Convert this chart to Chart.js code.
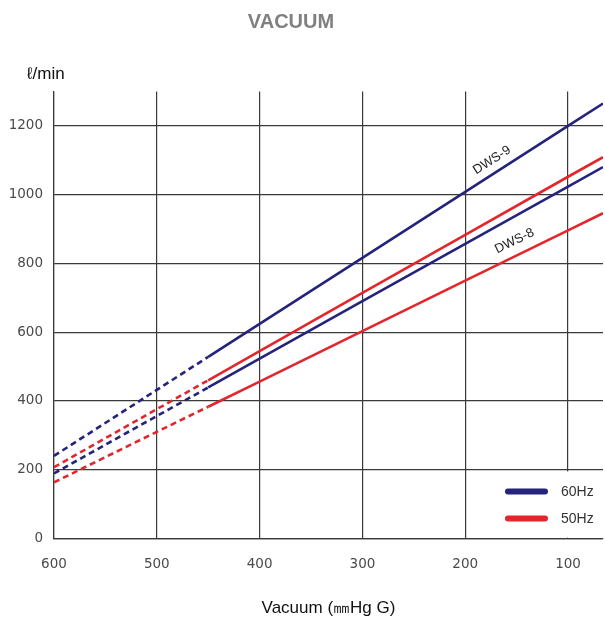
<!DOCTYPE html>
<html><head><meta charset="utf-8">
<script src="https://cdn.jsdelivr.net/npm/chart.js@4/dist/chart.umd.min.js"></script>
<style>html,body{margin:0;padding:0;background:#fff}canvas{display:block}</style>
</head><body>
<canvas id="c" width="605" height="626"></canvas>
<script>
// ---- data ----
const vacuum   = [600, 500, 450, 400, 300, 200, 100, 66];
const dws9_60  = [240, 432, 528, 624, 816, 1008, 1200, 1265];
const dws9_50  = [207, 376, 460, 545, 714, 883, 1052, 1109];
const dws8_60  = [189, 356, 439, 523, 690, 857, 1023, 1080];
const dws8_50  = [163, 310, 383, 456, 603, 750, 896, 946];
const dashedFrom = 450; // values at or beyond this vacuum are dashed
const seriesLabels = ['DWS-9 60Hz', 'DWS-9 50Hz', 'DWS-8 60Hz', 'DWS-8 50Hz'];
const legendLabels = ['60Hz', '50Hz'];
const modelLabels = ['DWS-9', 'DWS-8'];
const chartTitle = 'VACUUM';
const yUnit = 'ℓ/min';
const xTitle = 'Vacuum (㎜Hg G)';

const NAVY = '#25247c';
const RED = '#e3262c';
const GRID = '#3a3a3a';

function pts(ys) { return vacuum.map((x, i) => ({x, y: ys[i]})); }
function ds(label, ys, color) {
  return {
    label, data: pts(ys), borderColor: color, backgroundColor: color,
    borderWidth: 2.6, pointRadius: 0, tension: 0, fill: false,
    segment: { borderDash: c => c.p1.parsed.x >= dashedFrom ? [6, 4] : undefined }
  };
}

const extras = {
  id: 'extras',
  beforeDatasetsDraw(chart) {
    const {ctx, chartArea: a} = chart;
    ctx.save();
    // legend box (covers the grid)
    ctx.fillStyle = '#fff';
    ctx.fillRect(490, a.bottom - 67, a.right - 490 + 2, 66.3);
    const items = [[legendLabels[0], NAVY, a.bottom - 47], [legendLabels[1], RED, a.bottom - 20]];
    items.forEach(([t, c, y]) => {
      ctx.strokeStyle = c; ctx.lineWidth = 6; ctx.lineCap = 'round';
      ctx.beginPath(); ctx.moveTo(508, y); ctx.lineTo(545, y); ctx.stroke();
      ctx.fillStyle = '#333'; ctx.font = '14px "Liberation Sans", Arial, sans-serif';
      ctx.textAlign = 'left'; ctx.textBaseline = 'middle';
      ctx.fillText(t, 561, y + 0.5);
    });
    ctx.restore();
  },
  afterDatasetsDraw(chart) {
    const {ctx} = chart;
    const xs = chart.scales.x, ys = chart.scales.y;
    ctx.save();
    // title
    ctx.fillStyle = '#808080'; ctx.font = 'bold 20px "Liberation Sans", Arial, sans-serif';
    ctx.textAlign = 'center'; ctx.textBaseline = 'middle';
    ctx.fillText(chartTitle, 291, 22);
    // y unit
    ctx.fillStyle = '#111'; ctx.font = '17px "Liberation Sans", Arial, sans-serif';
    ctx.textAlign = 'left'; ctx.textBaseline = 'middle';
    ctx.fillText(yUnit, 27, 74);
    // model labels along the lines
    const specs = [[modelLabels[0], 0, 174, 1100], [modelLabels[1], 3, 152, 865]];
    specs.forEach(([t, di, xv, yv]) => {
      const d = chart.data.datasets[di].data;
      const p0 = d[3], p1 = d[6];
      const ang = Math.atan2(ys.getPixelForValue(p1.y) - ys.getPixelForValue(p0.y),
                             xs.getPixelForValue(p1.x) - xs.getPixelForValue(p0.x));
      ctx.save();
      ctx.translate(xs.getPixelForValue(xv), ys.getPixelForValue(yv));
      ctx.rotate(ang);
      ctx.fillStyle = '#222'; ctx.font = '13px "Liberation Sans", Arial, sans-serif';
      ctx.textAlign = 'center'; ctx.textBaseline = 'middle';
      ctx.fillText(t, 0, 0);
      ctx.restore();
    });
    ctx.restore();
  }
};

new Chart(document.getElementById('c'), {
  type: 'line',
  data: { datasets: [
    ds(seriesLabels[0], dws9_60, NAVY),
    ds(seriesLabels[1], dws9_50, RED),
    ds(seriesLabels[2], dws8_60, NAVY),
    ds(seriesLabels[3], dws8_50, RED)
  ]},
  options: {
    responsive: false, animation: false, devicePixelRatio: 1,
    layout: { padding: { left: 0, right: 2, top: 91.5, bottom: 0 } },
    plugins: {
      legend: { display: false }, tooltip: { enabled: false }, title: { display: false }
    },
    scales: {
      x: { type: 'linear', reverse: true, min: 66, max: 600,
        ticks: { stepSize: 100, includeBounds: false, padding: 18, color: '#4a4a4a',
          font: { family: '"DejaVu Sans", sans-serif', size: 13.5 },
          callback: v => String(v) },
        grid: { color: GRID, lineWidth: 1.2, drawTicks: false },
        border: { color: GRID, width: 1.2 },
        title: { display: true, text: xTitle, color: '#111',
          font: { family: '"Liberation Sans", Arial, sans-serif', size: 17 },
          padding: { top: 8, bottom: 7 } }
      },
      y: { min: 0, max: 1300,
        ticks: { stepSize: 200, includeBounds: false, padding: 11, color: '#4a4a4a',
          font: { family: '"DejaVu Sans", sans-serif', size: 13.5 },
          callback: v => String(v) },
        grid: { color: GRID, lineWidth: 1.2, drawTicks: false },
        border: { color: GRID, width: 1.2 },
        afterFit: s => { s.width = 54; }
      }
    }
  },
  plugins: [extras]
});
</script>
</body></html>
